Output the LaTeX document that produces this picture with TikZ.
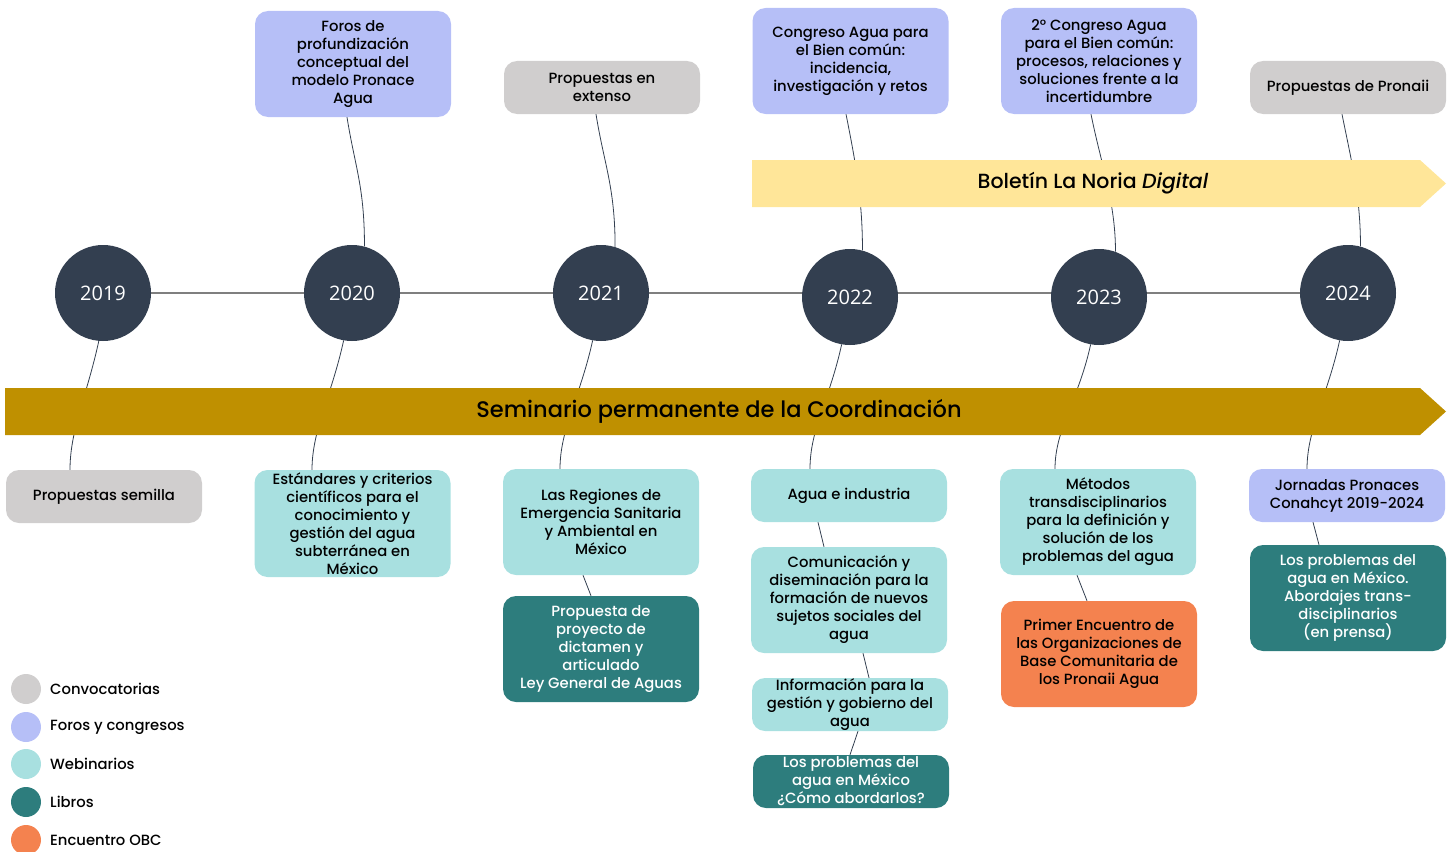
\documentclass[tikz,border=0pt]{standalone}
\usepackage{fontspec}
\setmainfont{Poppins}[UprightFont={* Medium}, ItalicFont={* Medium Italic}]
\newfontfamily\yearfont{Open Sans}
\definecolor{navy}{HTML}{333F50}
\definecolor{grisbox}{HTML}{D0CECE}
\definecolor{lavanda}{HTML}{B6BFF7}
\definecolor{tealclaro}{HTML}{A8E0E0}
\definecolor{tealosc}{HTML}{2D7D7D}
\definecolor{naranja}{HTML}{F4824F}
\definecolor{oro}{HTML}{BF9000}
\definecolor{amarillo}{HTML}{FFE699}
\definecolor{lineagris}{HTML}{7F7F7F}
\pgfdeclarelayer{bg}
\pgfsetlayers{bg,main}
\tikzset{
  box/.style={rounded corners=13pt, minimum width=196pt, align=center, inner sep=0pt,
    font=\fontsize{14.8}{18}\selectfont, text=black},
  tall/.style={box, minimum height=106pt},
  short/.style={box, minimum height=53pt},
  conv/.style={fill=grisbox},
  foro/.style={fill=lavanda},
  web/.style={fill=tealclaro},
  libro/.style={fill=tealosc, text=white},
  obc/.style={fill=naranja},
  year/.style={circle, fill=navy, minimum size=96pt, inner sep=0pt, text=white,
    font=\yearfont\fontsize{20}{24}\selectfont},
  conn/.style={draw=navy, line width=0.8pt},
  legdot/.style={circle, minimum size=30pt, inner sep=0pt},
  legtxt/.style={anchor=west, inner sep=0pt, font=\fontsize{14.8}{16}\selectfont}
}
\begin{document}
\begin{tikzpicture}[x=1pt,y=-1pt]
\useasboundingbox (0,0) rectangle (1453,851);

% bands
\fill[amarillo] (752,160) -- (1420,160) -- (1446,183.5) -- (1420,207) -- (752,207) -- cycle;
\node[font=\fontsize{20.5}{22}\selectfont] (boletin) at (1093,183.5) {Boletín La Noria \textit{Digital}};
\fill[oro] (5,388) -- (1420,388) -- (1446,411.5) -- (1420,435) -- (5,435) -- cycle;
\node[font=\fontsize{22.5}{24}\selectfont] (seminario) at (719,411.5) {Seminario permanente de la Coordinación};

% years
\node[year] (y2019) at (103,293) {2019};
\node[year] (y2020) at (352,293) {2020};
\node[year] (y2021) at (601,293) {2021};
\node[year] (y2022) at (850,297) {2022};
\node[year] (y2023) at (1099,297) {2023};
\node[year] (y2024) at (1348,293) {2024};

% top boxes
\node[tall,foro] (foros) at (353,64) {Foros de\\profundización\\conceptual del\\modelo Pronace\\Agua};
\node[short,conv] (extenso) at (602,87.5) {Propuestas en\\extenso};
\node[tall,foro] (cong1) at (850.5,61) {Congreso Agua para\\el Bien común:\\incidencia,\\investigación y retos};
\node[tall,foro] (cong2) at (1099,61) {2° Congreso Agua\\para el Bien común:\\procesos, relaciones y\\soluciones frente a la\\incertidumbre};
\node[short,conv] (pronaii) at (1348,87.5) {Propuestas de Pronaii};

% bottom boxes
\node[short,conv] (semilla) at (104,496.5) {Propuestas semilla};
\node[tall,web,minimum height=107pt] (estandares) at (352.5,523.5) {Estándares y criterios\\científicos para el\\conocimiento y\\gestión del agua\\subterránea en\\México};
\node[tall,web] (regiones) at (601,522) {Las Regiones de\\Emergencia Sanitaria\\y Ambiental en\\México};
\node[tall,libro] (propuesta) at (601,649) {Propuesta de\\proyecto de\\dictamen y\\articulado\\Ley General de Aguas};
\node[short,web] (industria) at (849,495.5) {Agua e industria};
\node[tall,web] (comunicacion) at (849,600) {Comunicación y\\diseminación para la\\formación de nuevos\\sujetos sociales del\\agua};
\node[short,web] (informacion) at (850,704.5) {Información para la\\gestión y gobierno del\\agua};
\node[short,libro] (abordarlos) at (851,781.5) {Los problemas del\\agua en México\\¿Cómo abordarlos?};
\node[tall,web] (metodos) at (1098,522) {Métodos\\transdisciplinarios\\para la definición y\\solución de los\\problemas del agua};
\node[tall,obc] (encuentro) at (1099,654) {Primer Encuentro de\\las Organizaciones de\\Base Comunitaria de\\los Pronaii Agua};
\node[short,foro] (jornadas) at (1347,495.5) {Jornadas Pronaces\\Conahcyt 2019-2024};
\node[tall,libro] (prensa) at (1348,598) {Los problemas del\\agua en México.\\Abordajes trans-\\disciplinarios\\(en prensa)};

% legend
\node[legdot,fill=grisbox] (l1) at (26,689) {};
\node[legtxt] (t1) at (50,689) {Convocatorias};
\node[legdot,fill=lavanda] (l2) at (26,727) {};
\node[legtxt] (t2) at (50,727) {Foros y congresos};
\node[legdot,fill=tealclaro] (l3) at (26,764) {};
\node[legtxt] (t3) at (50,764) {Webinarios};
\node[legdot,fill=tealosc] (l4) at (26,802) {};
\node[legtxt] (t4) at (50,802) {Libros};
\node[legdot,fill=naranja] (l5) at (26,840) {};
\node[legtxt] (t5) at (50,840) {Encuentro OBC};

\begin{pgfonlayer}{bg}
  % timeline
  \draw[lineagris, line width=1.2pt] (y2019.center) -- (y2024.center);
  % top connectors
  \draw[conn] ([xshift=-6pt]foros.south) .. controls +(8,50) and +(0,-60) .. (y2020.75);
  \draw[conn] ([xshift=-6pt]extenso.south) .. controls +(8,50) and +(0,-60) .. (y2021.73);
  \draw[conn] ([xshift=-4.5pt]cong1.south) .. controls +(10,50) and +(0,-50) .. (y2022.75);
  \draw[conn] ([xshift=-8pt]cong2.south) .. controls +(10,50) and +(0,-50) .. (y2023.70);
  \draw[conn] ([xshift=-6pt]pronaii.south) .. controls +(10,50) and +(0,-50) .. (y2024.75);
  % bottom connectors
  \draw[conn] (y2019.-95) .. controls +(-12,55) and +(0,-40) .. ([xshift=-34pt]semilla.north);
  \draw[conn] (y2020.-100) .. controls +(-12,55) and +(0,-40) .. ([xshift=-40.5pt]estandares.north);
  \draw[conn] (y2021.-100) .. controls +(-12,55) and +(0,-40) .. ([xshift=-41pt]regiones.north);
  \draw[conn] (y2022.-100) .. controls +(-12,55) and +(0,-40) .. ([xshift=-39pt]industria.north);
  \draw[conn] (y2023.-100) .. controls +(-12,55) and +(0,-40) .. ([xshift=-43pt]metodos.north);
  \draw[conn] (y2024.-100) .. controls +(-12,55) and +(0,-40) .. ([xshift=-40pt]jornadas.north);
  % box to box
  \draw[conn] ([xshift=-18pt]regiones.south) -- ([xshift=-10pt]propuesta.north);
  \draw[conn] ([xshift=-31pt]industria.south) -- ([xshift=-25pt]comunicacion.north);
  \draw[conn] ([xshift=14pt]comunicacion.south) -- ([xshift=19pt]informacion.north);
  \draw[conn] ([xshift=8pt]informacion.south) -- ([xshift=-1pt]abordarlos.north);
  \draw[conn] ([xshift=-21pt]metodos.south) -- ([xshift=-12pt]encuentro.north);
  \draw[conn] ([xshift=-34pt]jornadas.south) -- ([xshift=-29pt]prensa.north);
\end{pgfonlayer}
\end{tikzpicture}
\end{document}
